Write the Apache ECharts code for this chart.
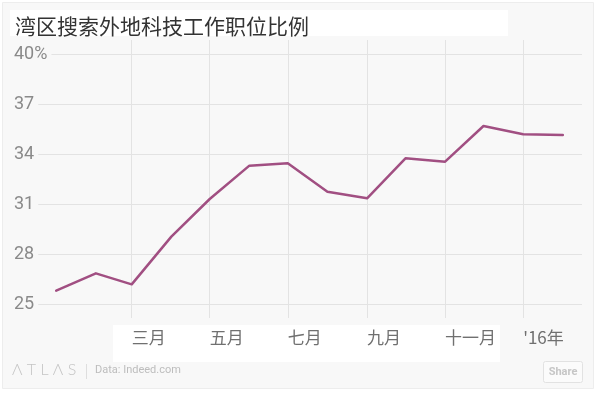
<!DOCTYPE html>
<html>
<head>
<meta charset="utf-8">
<script src="https://cdn.jsdelivr.net/npm/echarts@6/dist/echarts.min.js"></script>
<style>html,body{margin:0;padding:0;background:#fff;}#c{width:600px;height:393px;}</style>
</head>
<body>
<div id="c"></div>
<script>
// ---- data ----
const titleText = '湾区搜索外地科技工作职位比例';
const months = ['2015-01-01','2015-02-01','2015-03-01','2015-04-01','2015-05-01','2015-06-01','2015-07-01',
                '2015-08-01','2015-09-01','2015-10-01','2015-11-01','2015-12-01','2016-01-01','2016-02-01'];
const shareValues = [25.8, 26.84, 26.18, 29.04, 31.3, 33.3, 33.44, 31.74, 31.34, 33.74, 33.54, 35.68, 35.18, 35.14];
const yTicks = [25, 28, 31, 34, 37, 40];
const xTickDates = ['2015-03-01','2015-05-01','2015-07-01','2015-09-01','2015-11-01','2016-01-01'];
const xTickLabels = ['三月','五月','七月','九月','十一月',"'16年"];
const xRange = ['2014-11-29', '2016-02-16'];

function toTs(s){ const p = s.split('-').map(Number); return Date.UTC(p[0], p[1]-1, p[2]); }
const xTickTs = xTickDates.map(toTs);
const xMin = toTs(xRange[0]), xMax = toTs(xRange[1]);

const chart = echarts.init(document.getElementById('c'));
const bg = '#f8f8f8';
chart.setOption({
  backgroundColor: '#fff',
  animation: false,
  title: {
    text: titleText, left: 10, top: 11,
    textStyle: { fontFamily: 'Noto Sans CJK SC', fontSize: 21, fontWeight: 'normal', color: '#333' }
  },
  grid: [
    { left: 14, right: 18, top: 54, bottom: 89 },
    { left: 14, right: 18, top: 40, bottom: 75 }
  ],
  xAxis: [
    { type: 'value', gridIndex: 0, min: xMin, max: xMax, show: false },
    { type: 'value', gridIndex: 1, min: xMin, max: xMax,
      axisLine: { show: false }, axisTick: { show: false, customValues: xTickTs },
      splitLine: { show: true, lineStyle: { color: '#e3e3e3', width: 1 } },
      axisLabel: {
        customValues: xTickTs, align: 'left', margin: 11,
        color: '#707070', fontSize: 17, fontFamily: 'Noto Sans CJK SC',
        formatter: function (v) {
          let best = 0, bd = Infinity;
          xTickTs.forEach((t, i) => { const d = Math.abs(t - v); if (d < bd) { bd = d; best = i; } });
          return xTickLabels[best];
        }
      }
    }
  ],
  yAxis: [
    { type: 'value', gridIndex: 0, min: yTicks[0], max: yTicks[yTicks.length-1], interval: 3,
      axisLine: { show: false }, axisTick: { show: false },
      splitLine: { show: true, lineStyle: { color: '#e3e3e3', width: 1 } },
      axisLabel: {
        inside: true, margin: 0, align: 'left', verticalAlign: 'middle',
        color: '#8a8a8a', fontSize: 18, fontFamily: 'Roboto',
        backgroundColor: bg, padding: [0, 4, 0, 0],
        formatter: v => v === yTicks[yTicks.length-1] ? v + '%' : String(v)
      }
    },
    { type: 'value', gridIndex: 1, min: 0, max: 1, show: false }
  ],
  series: [{
    type: 'line', xAxisIndex: 0, yAxisIndex: 0,
    data: months.map((m, i) => [toTs(m), shareValues[i]]),
    symbol: 'none', lineStyle: { color: '#a14f82', width: 2.5, cap: 'round', join: 'round' },
    z: 5
  }],
  graphic: [
    { type: 'rect', z: -10, silent: true, shape: { x: 2.5, y: 2.5, width: 591, height: 386 },
      style: { fill: bg, stroke: '#ededed', lineWidth: 1 } },
    { type: 'rect', z: -5, silent: true, shape: { x: 10, y: 10, width: 498, height: 26 }, style: { fill: '#fff' } },
    { type: 'rect', z: -5, silent: true, shape: { x: 113, y: 325, width: 387, height: 37 }, style: { fill: '#fff' } },
    { type: 'text', left: 12, top: 362, style: { text: 'Λ T L Λ S', fontFamily: 'Lato', fontWeight: 300, fontSize: 16, fill: '#c4c4c4' } },
    { type: 'line', shape: { x1: 86.5, y1: 364, x2: 86.5, y2: 379 }, style: { stroke: '#dedede', lineWidth: 1 } },
    { type: 'text', left: 95, top: 365, style: { text: 'Data: Indeed.com', fontFamily: 'Roboto', fontSize: 11, fill: '#bdbdbd' } },
    { type: 'rect', shape: { x: 543.5, y: 361.5, width: 39, height: 21, r: 2 }, style: { fill: '#fbfbfb', stroke: '#e2e2e2', lineWidth: 1 } },
    { type: 'text', x: 563, y: 372, style: { text: 'Share', fontFamily: 'Roboto', fontWeight: 'bold', fontSize: 11, fill: '#c6c6c6', align: 'center', verticalAlign: 'middle' } }
  ]
});
</script>
</body>
</html>
